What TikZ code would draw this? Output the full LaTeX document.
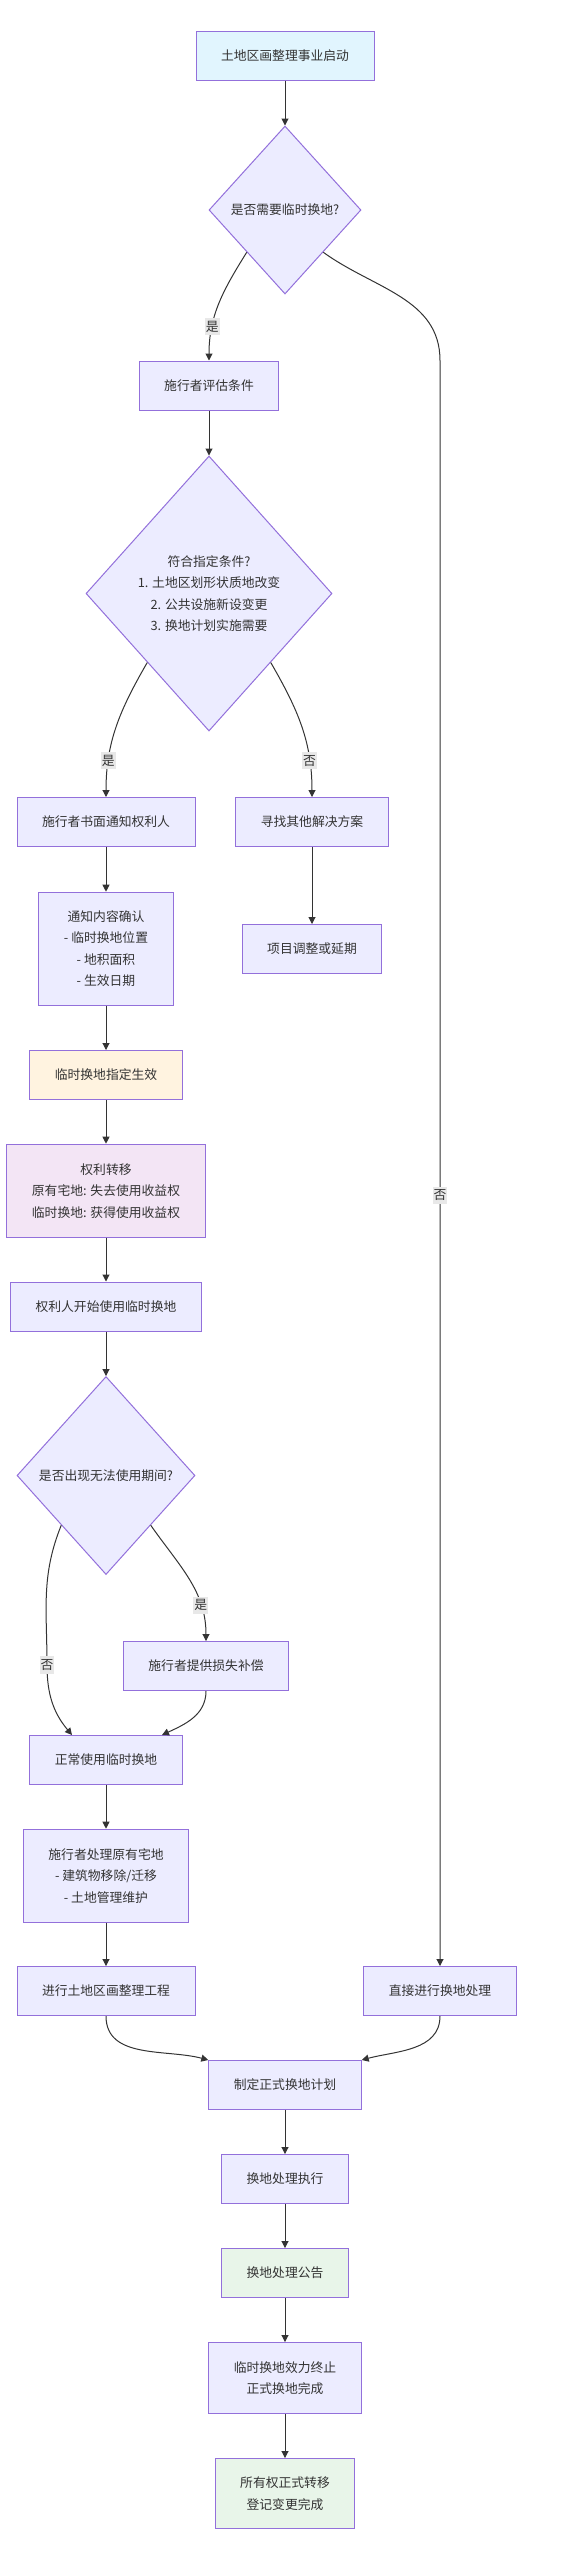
\documentclass[tikz,border=0pt]{standalone}
\usepackage{fontspec}
\newfontfamily\cjkfont{Noto Sans CJK SC}
\usetikzlibrary{arrows.meta}
\usetikzlibrary{shapes}

\definecolor{boxLine}{HTML}{9370DB}
\definecolor{boxFill}{HTML}{ECECFF}
\definecolor{startFill}{HTML}{E1F5FE}
\definecolor{orangeFill}{HTML}{FFF3E0}
\definecolor{pinkFill}{HTML}{F3E5F5}
\definecolor{greenFill}{HTML}{E8F5E9}
\definecolor{lineGray}{HTML}{333333}
\definecolor{textGray}{HTML}{333333}
\definecolor{labelBg}{HTML}{E8E8E8}

\begin{document}
\begin{tikzpicture}[x = 1pt, y = -1pt]
\tikzstyle{processStyle} = [shape = rectangle, draw = boxLine, fill = boxFill, line width = 1pt, inner xsep = 25pt, inner ysep = 4pt, minimum height = 49pt, align = center, text = textGray, font = \cjkfont\fontsize{12.8}{21.5}\selectfont]
\tikzstyle{decisionStyle} = [shape = diamond, draw = boxLine, fill = boxFill, line width = 1pt, inner sep = 0pt, align = center, text = textGray, font = \cjkfont\fontsize{12.8}{21.5}\selectfont]
\tikzstyle{edgeStyle} = [draw = lineGray, line width = 1pt, -{Triangle[length = 7pt, width = 7pt]}]
\tikzstyle{labelStyle} = [fill = labelBg, inner xsep = 1pt, inner ysep = 3pt, text = textGray, font = \cjkfont\fontsize{12.8}{15}\selectfont]
\useasboundingbox (0, 0) rectangle (583, 2560);
% main column
\node[processStyle, fill = startFill] (start) at (285, 55.5) {土地区画整理事业启动};
\node[decisionStyle, minimum width = 152pt, minimum height = 168pt] (needTemp) at (285, 210) {是否需要临时换地?};
\node[processStyle] (evalCond) at (209, 385.5) {施行者评估条件};
\node[decisionStyle, minimum width = 246pt, minimum height = 275pt] (meetCond) at (209, 593.5) {符合指定条件?\\1. 土地区划形状质地改变\\2. 公共设施新设变更\\3. 换地计划实施需要};
\node[processStyle] (notify) at (106, 822) {施行者书面通知权利人};
\node[processStyle] (altPlan) at (312, 822) {寻找其他解决方案};
\node[processStyle, minimum height = 113pt] (confirm) at (106, 948.7) {通知内容确认\\- 临时换地位置\\- 地积面积\\- 生效日期};
\node[processStyle] (adjust) at (312, 949) {项目调整或延期};
\node[processStyle, fill = orangeFill] (effect) at (106, 1075) {临时换地指定生效};
\node[processStyle, fill = pinkFill, minimum height = 93pt] (transfer) at (106, 1190.7) {权利转移\\原有宅地: 失去使用收益权\\临时换地: 获得使用收益权};
\node[processStyle] (startUse) at (106, 1306.5) {权利人开始使用临时换地};
\node[decisionStyle, minimum width = 178pt, minimum height = 198pt] (unusable) at (106, 1475.5) {是否出现无法使用期间?};
\node[processStyle] (compensate) at (206, 1666) {施行者提供损失补偿};
\node[processStyle] (normalUse) at (106, 1760) {正常使用临时换地};
\node[processStyle, minimum height = 93pt] (dispose) at (106, 1875.7) {施行者处理原有宅地\\- 建筑物移除/迁移\\- 土地管理维护};
\node[processStyle] (works) at (106, 1991) {进行土地区画整理工程};
\node[processStyle] (direct) at (440, 1991) {直接进行换地处理};
% final steps
\node[processStyle] (plan) at (285, 2085) {制定正式换地计划};
\node[processStyle] (execute) at (285, 2179) {换地处理执行};
\node[processStyle, fill = greenFill] (notice) at (285, 2273) {换地处理公告};
\node[processStyle, minimum height = 71pt] (finish) at (285, 2378) {临时换地效力终止\\正式换地完成};
\node[processStyle, fill = greenFill, minimum height = 70pt] (register) at (285, 2493.5) {所有权正式转移\\登记变更完成};
\coordinate (noBend) at (47, 1665);
% connectors
\draw[edgeStyle] (start) -- (needTemp);
\draw[edgeStyle] (needTemp.south west) to[out = -122, in = 90] node[labelStyle, pos = 0.72] {是} (evalCond.north);
\draw[edgeStyle] (needTemp.south east) to[out = -36, in = 90] (direct.north |- evalCond.north) -- node[labelStyle, pos = 0.52] {否} (direct.north);
\draw[edgeStyle] (evalCond) -- (meetCond);
\draw[edgeStyle] (meetCond.south west) to[out = -120, in = 90] node[labelStyle, pos = 0.76] {是} (notify.north);
\draw[edgeStyle] (meetCond.south east) to[out = -60, in = 90] node[labelStyle, pos = 0.76] {否} (altPlan.north);
\draw[edgeStyle] (notify) -- (confirm);
\draw[edgeStyle] (altPlan) -- (adjust);
\draw[edgeStyle] (confirm) -- (effect);
\draw[edgeStyle] (effect) -- (transfer);
\draw[edgeStyle] (transfer) -- (startUse);
\draw[edgeStyle] (startUse) -- (unusable);
\draw[edgeStyle] (unusable.south east) to[out = -55, in = 90] node[labelStyle, pos = 0.73] {是} (compensate.north);
\draw[edgeStyle] (unusable.south west) to[out = -112, in = 90] (noBend) node[labelStyle] {否} to[out = -90, in = 130] ([xshift = -34pt]normalUse.north);
\draw[edgeStyle] (compensate.south) to[out = -90, in = 25] ([xshift = 56pt]normalUse.north);
\draw[edgeStyle] (normalUse) -- (dispose);
\draw[edgeStyle] (dispose) -- (works);
\draw[edgeStyle] (works.south) to[out = -90, in = 165] (plan.north west);
\draw[edgeStyle] (direct.south) to[out = -90, in = 15] (plan.north east);
\draw[edgeStyle] (plan) -- (execute);
\draw[edgeStyle] (execute) -- (notice);
\draw[edgeStyle] (notice) -- (finish);
\draw[edgeStyle] (finish) -- (register);
\end{tikzpicture}
\end{document}
